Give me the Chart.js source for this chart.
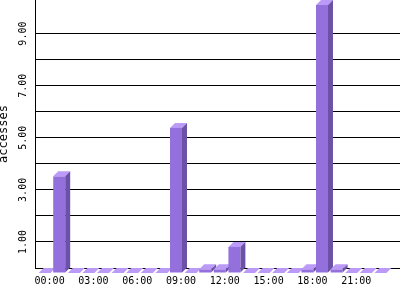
<!DOCTYPE html>
<html>
<head>
<meta charset="utf-8">
<script src="https://cdn.jsdelivr.net/npm/chart.js@4/dist/chart.umd.min.js"></script>
<style>
  html, body { margin: 0; padding: 0; background: #fff; }
  canvas { display: block; }
</style>
</head>
<body>
<canvas id="chart" width="400" height="300"></canvas>
<script>
const hours = ['00:00', '01:00', '02:00', '03:00', '04:00', '05:00', '06:00', '07:00',
  '08:00', '09:00', '10:00', '11:00', '12:00', '13:00', '14:00', '15:00',
  '16:00', '17:00', '18:00', '19:00', '20:00', '21:00', '22:00', '23:00'];
const accesses = [0, 3.71, 0, 0, 0, 0, 0, 0,
  0, 5.57, 0, 0.14, 0.14, 1.00, 0, 0,
  0, 0, 0.14, 10.29, 0.14, 0, 0, 0];
const hourTicks = [0, 3, 6, 9, 12, 15, 18, 21];
const yLabelTicks = [1, 3, 5, 7, 9];

const depth = 5;
const frontColor = '#9370db';
const sideColor = '#6b52a6';
const topColor = '#bb9bf7';

// the bars are laid out by Chart.js, this only paints them as 3d boxes
const bars3d = {
  id: 'bars3d',
  afterDatasetsDraw(chart) {
    const ctx = chart.ctx;
    const meta = chart.getDatasetMeta(0);
    ctx.save();
    meta.data.forEach(el => {
      const { x, y, base, width } = el.getProps(['x', 'y', 'base', 'width'], true);
      const l = x - width / 2;
      const r = x + width / 2;
      // top
      ctx.fillStyle = topColor;
      ctx.beginPath();
      ctx.moveTo(l - depth, y + depth);
      ctx.lineTo(l, y);
      ctx.lineTo(r, y);
      ctx.lineTo(r - depth, y + depth);
      ctx.closePath();
      ctx.fill();
      if (base - y > 0.5) {
        // side
        ctx.fillStyle = sideColor;
        ctx.beginPath();
        ctx.moveTo(r - depth, y + depth);
        ctx.lineTo(r, y);
        ctx.lineTo(r, base);
        ctx.lineTo(r - depth, base + depth);
        ctx.closePath();
        ctx.fill();
        // front
        ctx.fillStyle = frontColor;
        ctx.fillRect(l - depth, y + depth, width, base - y);
      }
    });
    ctx.restore();
  }
};

function noPadding(scale) {
  scale.paddingTop = 0;
  scale.paddingBottom = 0;
  scale.paddingLeft = 0;
  scale.paddingRight = 0;
}

const ctx = document.getElementById('chart').getContext('2d');
const chart = new Chart(ctx, {
  type: 'bar',
  data: {
    datasets: [{
      label: 'accesses',
      data: accesses.map((v, i) => ({ x: i, y: v })),
      backgroundColor: 'rgba(0,0,0,0)',
      borderWidth: 0,
      categoryPercentage: 1,
      barPercentage: 0.82
    }]
  },
  options: {
    responsive: false,
    animation: false,
    devicePixelRatio: 1,
    layout: { padding: 0 },
    plugins: {
      legend: { display: false },
      tooltip: { enabled: false }
    },
    scales: {
      x: {
        type: 'linear',
        offset: false,
        min: -1,
        max: 24,
        grid: { display: false, drawTicks: false },
        border: { display: true, color: '#000', width: 1 },
        afterBuildTicks: scale => { scale.ticks = hourTicks.map(v => ({ value: v })); },
        afterFit: scale => { scale.height = 32; noPadding(scale); },
        ticks: {
          autoSkip: false,
          maxRotation: 0,
          padding: 7,
          color: '#000',
          font: { family: 'DejaVu Sans Mono', size: 10 },
          callback: v => hours[v]
        }
      },
      y: {
        min: 0,
        max: Math.max(...accesses),
        grid: { color: '#000', lineWidth: 1, drawTicks: false },
        border: { display: true, color: '#000', width: 1 },
        afterBuildTicks: scale => {
          scale.ticks = scale.ticks.filter(t => Number.isInteger(t.value));
        },
        afterFit: scale => { scale.width = 35; noPadding(scale); },
        ticks: {
          stepSize: 1,
          autoSkip: false,
          minRotation: 90,
          maxRotation: 90,
          crossAlign: 'center',
          padding: 0,
          color: '#000',
          font: { family: 'DejaVu Sans Mono', size: 10 },
          callback: v => yLabelTicks.includes(v) ? v.toFixed(2) : ''
        },
        title: {
          display: true,
          text: 'accesses',
          color: '#000',
          padding: 0,
          font: { family: 'DejaVu Sans Mono', size: 12, lineHeight: 0.6 }
        }
      }
    }
  },
  plugins: [bars3d]
});
</script>
</body>
</html>
